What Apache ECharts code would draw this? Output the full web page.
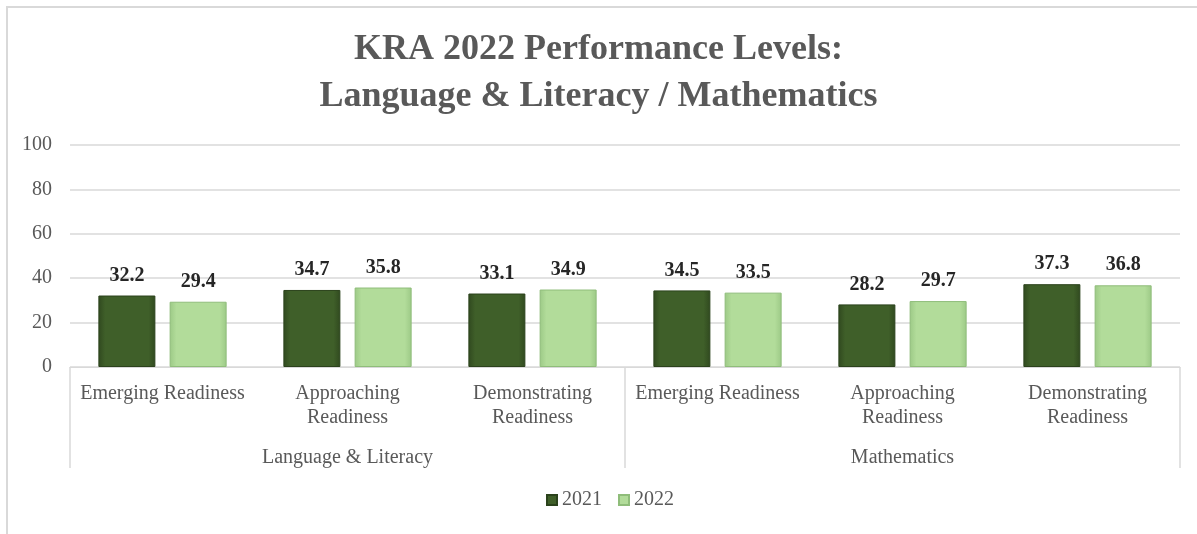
<!DOCTYPE html>
<html>
<head>
<meta charset="utf-8">
<style>
  html, body { margin: 0; padding: 0; background: #fff; }
  #chart { width: 1197px; height: 534px; }
</style>
<script src="https://cdn.jsdelivr.net/npm/echarts@6/dist/echarts.min.js"></script>
</head>
<body>
<div id="chart"></div>
<script>
var subjects = ['Language & Literacy', 'Mathematics'];
var levels = ['Emerging Readiness', 'Approaching\nReadiness', 'Demonstrating\nReadiness',
              'Emerging Readiness', 'Approaching\nReadiness', 'Demonstrating\nReadiness'];
var values2021 = [32.2, 34.7, 33.1, 34.5, 28.2, 37.3];
var values2022 = [29.4, 35.8, 34.9, 33.5, 29.7, 36.8];
var yTicks = [0, 20, 40, 60, 80, 100];

(function() {
  var serif = '"Liberation Serif", "Times New Roman", serif';
  var grey = '#595959';
  var rule = '#d9d9d9';

  function bevel(edge, mid) {
    return {
      type: 'linear', x: 0, y: 0, x2: 1, y2: 0,
      colorStops: [
        { offset: 0, color: edge },
        { offset: 0.12, color: mid },
        { offset: 0.88, color: mid },
        { offset: 1, color: edge }
      ]
    };
  }

  var dark = bevel('#30491f', '#3f5f29');
  var light = bevel('#9cc986', '#b2dc9a');

  var chart = echarts.init(document.getElementById('chart'), null, { renderer: 'canvas' });
  chart.setOption({
    animation: false,
    title: {
      text: 'KRA 2022 Performance Levels:\nLanguage & Literacy / Mathematics',
      left: 'center',
      top: 21,
      textStyle: { fontFamily: serif, fontSize: 36, fontWeight: 'bold', color: grey, lineHeight: 47 }
    },
    graphic: [{
      type: 'rect',
      shape: { x: 7, y: 7, width: 1300, height: 700 },
      style: { fill: 'none', stroke: rule, lineWidth: 2 },
      silent: true
    }],
    legend: {
      bottom: 19,
      left: 541,
      itemWidth: 10,
      itemHeight: 10,
      itemGap: 16,
      textStyle: { fontFamily: serif, fontSize: 20, color: grey },
      data: [
        { name: '2021', icon: 'rect', itemStyle: { color: '#3f5f29' } },
        { name: '2022', icon: 'rect', itemStyle: { color: '#b2dc9a' } }
      ]
    },
    grid: { left: 70, right: 17, top: 145, bottom: 167 },
    xAxis: [
      {
        type: 'category',
        data: levels,
        position: 'bottom',
        axisLine: { lineStyle: { color: rule, width: 1 } },
        axisTick: { show: false },
        axisLabel: { interval: 0, margin: 15, fontFamily: serif, fontSize: 20, color: grey, lineHeight: 24 }
      },
      {
        type: 'category',
        data: subjects,
        position: 'bottom',
        axisLine: { show: false },
        axisTick: { show: true, length: 101, lineStyle: { color: rule, width: 1.5 } },
        axisLabel: { interval: 0, margin: 81, fontFamily: serif, fontSize: 20, color: grey }
      }
    ],
    yAxis: {
      type: 'value',
      min: yTicks[0],
      max: yTicks[yTicks.length - 1],
      interval: yTicks[1] - yTicks[0],
      axisLine: { show: false },
      axisTick: { show: false },
      axisLabel: { margin: 18, fontFamily: serif, fontSize: 20, color: grey },
      splitLine: { lineStyle: { color: rule, width: 1.5 } }
    },
    series: [
      {
        name: '2021',
        type: 'bar',
        xAxisIndex: 0,
        data: values2021,
        barWidth: 57,
        barGap: '25%',
        itemStyle: { color: dark, borderColor: '#2b421c', borderWidth: 1 },
        label: { show: true, position: 'top', distance: 10, fontFamily: serif, fontSize: 20, fontWeight: 'bold', color: '#262626' }
      },
      {
        name: '2022',
        type: 'bar',
        xAxisIndex: 0,
        data: values2022,
        barWidth: 57,
        barGap: '25%',
        itemStyle: { color: light, borderColor: '#8fbd7a', borderWidth: 1 },
        label: { show: true, position: 'top', distance: 10, fontFamily: serif, fontSize: 20, fontWeight: 'bold', color: '#262626' }
      }
    ]
  });
  window.addEventListener('resize', function() { chart.resize(); });
})();
</script>
</body>
</html>
